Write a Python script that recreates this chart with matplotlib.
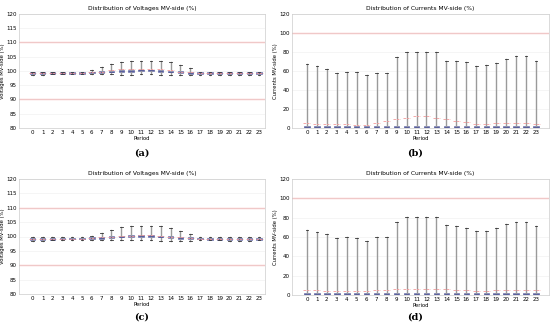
import numpy as np
import matplotlib
matplotlib.use("Agg")
import matplotlib.pyplot as plt

periods = list(range(24))

# voltages (a)
v_a_med = [99.3, 99.3, 99.3, 99.3, 99.3, 99.3, 99.5, 99.6, 99.8, 100.0, 100.0, 100.2, 100.2, 100.0, 99.8, 99.6, 99.4, 99.3, 99.3, 99.3, 99.3, 99.3, 99.3, 99.3]
v_a_hi = [99.8, 99.8, 99.8, 99.8, 99.8, 99.8, 100.3, 101.3, 102.4, 103.3, 103.6, 103.6, 103.6, 103.6, 103.0, 102.1, 101.0, 99.8, 99.8, 99.8, 99.8, 99.8, 99.8, 99.8]
v_a_lo = [98.7, 98.7, 98.8, 98.8, 98.8, 98.8, 98.9, 98.8, 98.8, 98.7, 98.7, 98.9, 98.8, 98.5, 98.5, 98.6, 98.6, 98.7, 98.7, 98.7, 98.6, 98.6, 98.6, 98.7]
v_a_mean = [99.3, 99.3, 99.3, 99.3, 99.3, 99.3, 99.5, 99.7, 100.3, 100.6, 100.8, 100.8, 100.8, 100.7, 100.2, 99.8, 99.5, 99.3, 99.3, 99.3, 99.3, 99.3, 99.3, 99.3]

# voltages (c)
v_c_med = [99.2, 99.2, 99.2, 99.3, 99.3, 99.3, 99.4, 99.6, 99.8, 100.0, 100.1, 100.2, 100.2, 100.0, 99.8, 99.6, 99.4, 99.3, 99.2, 99.2, 99.2, 99.2, 99.2, 99.2]
v_c_hi = [99.8, 99.8, 99.8, 99.8, 99.8, 99.8, 100.2, 101.2, 102.3, 103.3, 103.6, 103.6, 103.6, 103.6, 103.0, 101.9, 100.7, 99.8, 99.8, 99.8, 99.8, 99.8, 99.8, 99.8]
v_c_lo = [98.6, 98.6, 98.7, 98.8, 98.8, 98.8, 98.9, 98.9, 98.8, 98.8, 98.8, 98.9, 98.8, 98.5, 98.5, 98.6, 98.6, 98.7, 98.7, 98.7, 98.6, 98.6, 98.6, 98.7]
v_c_mean = [99.3, 99.3, 99.3, 99.3, 99.3, 99.3, 99.5, 99.7, 100.0, 100.2, 100.3, 100.4, 100.4, 100.2, 100.0, 99.7, 99.5, 99.3, 99.3, 99.3, 99.3, 99.3, 99.3, 99.3]

# currents (b)
i_b_hi = [67, 65, 62.5, 58, 59, 59, 55.5, 58, 58, 75, 79.5, 79.5, 79.5, 79.5, 70.5, 70, 69, 65.5, 66, 68.5, 73, 75.5, 75.5, 70.5]
i_b_mean = [5, 4.5, 4.5, 4, 4, 3.5, 3.5, 5.5, 7, 9.5, 11, 13, 13, 11, 9.5, 7.5, 6, 4, 4.5, 5, 5, 5, 5, 4.5]

# currents (d)
i_d_hi = [67.5, 65, 63, 58.5, 59.5, 59, 56, 59.5, 59.5, 76, 80.5, 80.5, 80.5, 80.5, 72, 71.5, 69, 66, 66, 69, 73, 76, 76, 71]
i_d_mean = [5, 5, 4.5, 4.5, 4, 4, 4.5, 5, 5, 6, 6, 6, 6, 6, 6, 5.5, 5.5, 4.5, 4.5, 5, 5, 5.5, 5, 5]

i_med = [1.0] * 24
i_q1 = [0.4] * 24
i_q3 = [2.0] * 24
i_lo = [0.0] * 24


def stats(med, q1, q3, lo, hi):
    out = []
    for k in range(len(med)):
        out.append(dict(med=med[k], q1=q1[k], q3=q3[k], whislo=lo[k],
                        whishi=hi[k], fliers=[], label=str(periods[k])))
    return out


def draw(ax, st, mean, title, ylabel, ylim, yticks, limits, xlim):
    ax.bxp(st, positions=periods, widths=0.55, patch_artist=True,
           showfliers=False,
           boxprops=dict(facecolor="#9aa3d8", edgecolor="#6b70a8", linewidth=0.5),
           medianprops=dict(color="#5a5f9a", linewidth=0.7),
           whiskerprops=dict(color="#9a9a9a", linewidth=1.0),
           capprops=dict(color="#333333", linewidth=0.6))
    pos = np.array(periods)
    ax.hlines(mean, pos - 0.35, pos + 0.35, color="#f29a9a", linewidth=0.6,
              linestyle=(0, (3, 1)), zorder=3)
    for y in limits:
        ax.axhline(y, color="#f39a9a", linewidth=0.9, zorder=0)
    ax.set_ylim(ylim)
    ax.set_yticks(yticks)
    ax.set_xlim(xlim)
    ax.grid(axis="y", color="#eeeeee", linewidth=0.4)
    ax.set_axisbelow(True)
    ax.set_title(title, fontsize=4.3, pad=3)
    ax.set_ylabel(ylabel, fontsize=3.8, labelpad=1)
    ax.set_xlabel("Period", fontsize=3.8, labelpad=0.5)
    ax.tick_params(labelsize=4, length=0, pad=1.5)
    for s in ax.spines.values():
        s.set_color("#cccccc")
        s.set_linewidth(0.5)


fig = plt.figure(figsize=(5.5, 3.26), dpi=100)
W, H = 550.0, 326.0
axa = fig.add_axes([19 / W, 1 - 128 / H, 246 / W, 114 / H])
axb = fig.add_axes([292 / W, 1 - 128 / H, 257 / W, 114 / H])
axc = fig.add_axes([19 / W, 1 - 294 / H, 246 / W, 115 / H])
axd = fig.add_axes([292 / W, 1 - 295 / H, 257 / W, 116 / H])

vq = lambda med: ([m - 0.3 for m in med], [m + 0.3 for m in med])
q1a, q3a = vq(v_a_med)
q1c, q3c = vq(v_c_med)

draw(axa, stats(v_a_med, q1a, q3a, v_a_lo, v_a_hi), v_a_mean,
     "Distribution of Voltages MV-side (%)", "Voltages MV-side (%)",
     (80, 120), range(80, 121, 5), [90, 110], (-1.4, 23.6))
draw(axb, stats(i_med, i_q1, i_q3, i_lo, i_b_hi), i_b_mean,
     "Distribution of Currents MV-side (%)", "Currents MV-side (%)",
     (0, 120), range(0, 121, 20), [100], (-1.5, 24.3))
draw(axc, stats(v_c_med, q1c, q3c, v_c_lo, v_c_hi), v_c_mean,
     "Distribution of Voltages MV-side (%)", "Voltages MV-side (%)",
     (80, 120), range(80, 121, 5), [90, 110], (-1.4, 23.6))
draw(axd, stats(i_med, i_q1, i_q3, i_lo, i_d_hi), i_d_mean,
     "Distribution of Currents MV-side (%)", "Currents MV-side (%)",
     (0, 120), range(0, 121, 20), [100], (-1.5, 24.3))

lab = dict(fontsize=7, fontweight="bold", family="DejaVu Serif", ha="center", va="center")
fig.text(142 / W, 1 - 153 / H, "(a)", **lab)
fig.text(415 / W, 1 - 153 / H, "(b)", **lab)
fig.text(142 / W, 1 - 317 / H, "(c)", **lab)
fig.text(415 / W, 1 - 317 / H, "(d)", **lab)

fig.savefig("out.png", dpi=100)
